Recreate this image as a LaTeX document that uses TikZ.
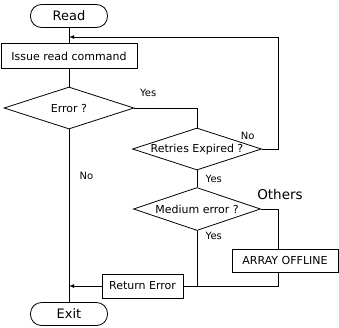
\documentclass[tikz,border=0pt]{standalone}
\usepackage{fontspec}
\setmainfont{DejaVu Sans}
\usepackage{tikz}
\usetikzlibrary{shapes.geometric}

\begin{document}
\begin{tikzpicture}[x=1pt, y=-1pt, node distance=40pt, thick,
    main node/.style={rectangle,draw,inner sep=0pt,font=\fontsize{11}{13}\selectfont},
    end node/.style={rectangle,draw,rounded corners=11pt,minimum width=77pt,minimum height=23pt,inner sep=0pt,font=\fontsize{13}{15}\selectfont},
    test node/.style={diamond,draw,aspect=3,inner sep=0pt,font=\fontsize{11}{13}\selectfont},
    yes node/.style={font=\fontsize{10}{12}\selectfont}]
  \useasboundingbox (0,0) rectangle (339,327);

  \node[end node] (1) at (69,16) {Read};
  \node[main node,minimum width=136pt,minimum height=25pt] (2) [below of=1] {Issue read command};
  \node[test node,minimum width=130pt,minimum height=42pt] (3) [node distance=52pt, below of=2] {Error ?};
  \node[test node,minimum width=129pt,minimum height=42pt] (4) [node distance=41pt, below of=3, xshift=128pt] {Retries Expired ?};
  \node[test node,minimum width=127pt,minimum height=43pt] (5) [node distance=60pt, below of=4] {Medium error ?};
  \node[main node,minimum width=106pt,minimum height=23pt] (6) at (285,260.5) {ARRAY OFFLINE};
  \node[main node,minimum width=81pt,minimum height=24pt] (7) at (142.5,286) {Return Error};
  \node[end node] (8) at (69,314) {Exit};

  \coordinate (a) at (69,37);
  \coordinate (b) at (278,37);
  \coordinate (c) at (69,286);

  \path (1) edge (2)
        (2) edge (3);

  \path[every node/.style={yes node}]
    (3) edge node[pos=0.27, right=7pt] {No} (8)
    (4) edge node[right=5pt] {Yes} (5);

  \draw (3.east) -| node[yes node, pos=0.11, above=8pt] {Yes} (4.north);
  \draw[-latex] (4.east) -| node[yes node, at start, anchor=south east, inner sep=0pt, xshift=-7pt, yshift=9pt] {No} (b) -- (a);
  \draw (5.east) -| node[pos=0.5, above=6pt, xshift=2pt, font=\fontsize{13.5}{15}\selectfont] {Others} ([xshift=-7pt]6.north);
  \draw (5.south) -- node[yes node, pos=0.1, right=5pt] {Yes} (5.south |- 7.east);
  \draw ([xshift=-7pt]6.south) |- (7.east);
  \draw[-latex] (7) -- (c);
\end{tikzpicture}
\end{document}
